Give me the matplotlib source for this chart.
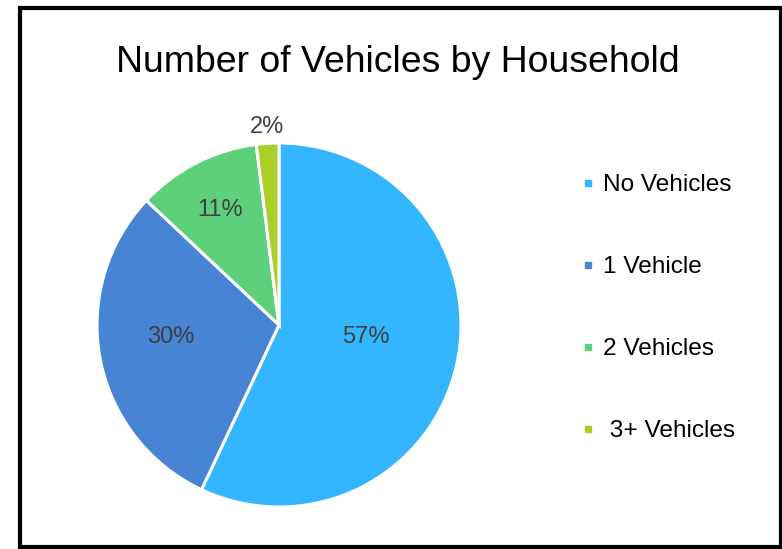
import numpy as np
import matplotlib.pyplot as plt
from matplotlib.lines import Line2D
from matplotlib.patches import Rectangle

plt.rcParams['font.family'] = ['Liberation Sans', 'DejaVu Sans']

# data
categories = ["No Vehicles", "1 Vehicle", "2 Vehicles", "3+ Vehicles"]
legend_labels = ["No Vehicles", "1 Vehicle", "2 Vehicles", " 3+ Vehicles"]
shares = [57, 30, 11, 2]
colors = ["#33B5FF", "#4884D4", "#5ED07C", "#AACF2A"]
# label placement: distance from centre (radius units) and angle tweak (deg)
label_dist = [0.48, 0.60, 0.71, 1.09]
label_turn = [4.7, -4.4, 0, 0]

W, H = 782, 549
fig = plt.figure(figsize=(W / 100, H / 100), dpi=100)

# pie axes placed in pixels
cx, cy, r = 279, 325, 182
ax = fig.add_axes([(cx - r) / W, (H - cy - r) / H, 2 * r / W, 2 * r / H])
wedges, _ = ax.pie(shares, colors=colors, startangle=90, counterclock=False,
                   radius=1, wedgeprops=dict(edgecolor="white", linewidth=2.2))
ax.set_xlim(-1, 1)
ax.set_ylim(-1, 1)
ax.set_aspect("equal")
ax.axis("off")

for w, s, d, t in zip(wedges, shares, label_dist, label_turn):
    ang = np.deg2rad((w.theta1 + w.theta2) / 2 + t)
    ax.text(d * np.cos(ang), d * np.sin(ang), f"{s}%", ha="center", va="center",
            fontsize=17, color="#404040", clip_on=False)

fig.text(398 / W, 1 - 62 / H, "Number of Vehicles by Household",
         ha="center", va="center", fontsize=26.9, color="black")

handles = [Line2D([], [], marker="s", linestyle="none", markersize=5,
                  markerfacecolor=c, markeredgecolor=c) for c in colors]
fig.legend(handles, legend_labels, loc="center left",
           bbox_to_anchor=(559 / W, 1 - 308 / H), frameon=False,
           fontsize=17.6, handlelength=0.6, handletextpad=0.3,
           labelspacing=2.45)

# outer frame
fig.patches.append(Rectangle((19.5 / W, 2 / H), 761 / W, 539 / H,
                             transform=fig.transFigure, fill=False,
                             edgecolor="black", linewidth=3.0))

fig.savefig("out.png", dpi=100)
